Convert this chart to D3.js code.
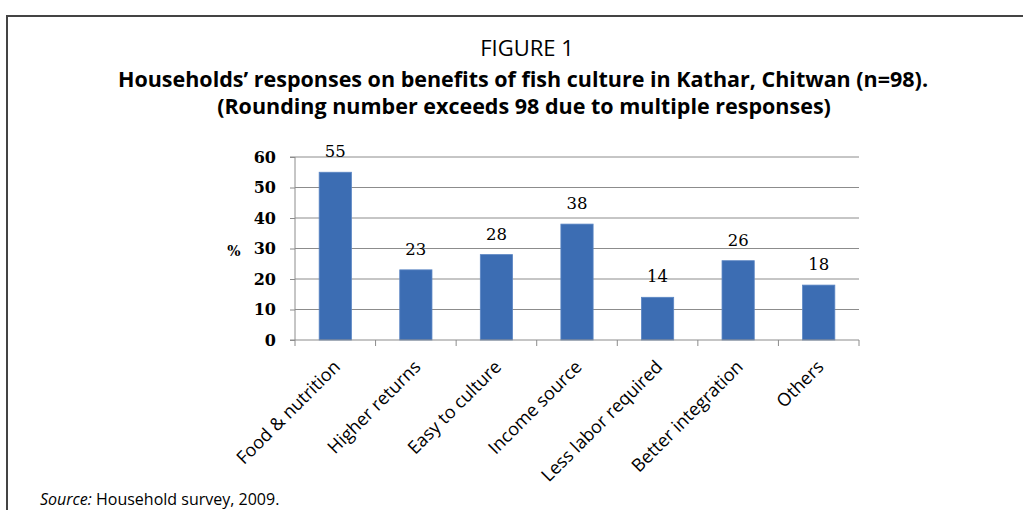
<!DOCTYPE html>
<html>
<head>
<meta charset="utf-8">
<script src="https://cdn.jsdelivr.net/npm/d3@7"></script>
<style>
  body { margin: 0; background: #fff; }
  svg { display: block; }
</style>
</head>
<body>
<div id="chart"></div>
<script>
var categories = ["Food & nutrition", "Higher returns", "Easy to culture", "Income source",
                  "Less labor required", "Better integration", "Others"];
var values = [55, 23, 28, 38, 14, 26, 18];
var yTicks = [0, 10, 20, 30, 40, 50, 60];

var width = 1023, height = 510;
var plotLeft = 295, plotRight = 859, plotTop = 157, plotBottom = 340;

var svg = d3.select("#chart").append("svg")
  .attr("width", width)
  .attr("height", height);

// frame round the figure
svg.append("path")
  .attr("d", "M7,510 V16 H1023")
  .attr("fill", "none")
  .attr("stroke", "#444")
  .attr("stroke-width", 2);

// titles
svg.append("text")
  .attr("x", 527).attr("y", 56)
  .attr("text-anchor", "middle")
  .style("font-family", "'Open Sans', sans-serif")
  .style("font-size", "22px")
  .text("FIGURE 1");

svg.append("text")
  .attr("x", 523).attr("y", 87)
  .attr("text-anchor", "middle")
  .style("font-family", "'Open Sans', sans-serif")
  .style("font-size", "21.5px")
  .style("font-weight", "bold")
  .text("Households\u2019 responses on benefits of fish culture in Kathar, Chitwan (n=98).");

svg.append("text")
  .attr("x", 524).attr("y", 114)
  .attr("text-anchor", "middle")
  .style("font-family", "'Open Sans', sans-serif")
  .style("font-size", "21.5px")
  .style("font-weight", "bold")
  .text("(Rounding number exceeds 98 due to multiple responses)");

var x = d3.scaleBand()
  .domain(categories)
  .range([plotLeft, plotRight])
  .paddingInner(0.6)
  .paddingOuter(0.3);

var y = d3.scaleLinear()
  .domain([0, 60])
  .range([plotBottom, plotTop]);

// gridlines
svg.append("g")
  .selectAll("line")
  .data(yTicks.slice(1))
  .enter()
  .append("line")
  .attr("x1", plotLeft).attr("x2", plotRight)
  .attr("y1", function(d){ return y(d); })
  .attr("y2", function(d){ return y(d); })
  .attr("stroke", "#8c8c8c")
  .attr("stroke-width", 1);

// bars
svg.append("g")
  .selectAll("rect")
  .data(values)
  .enter()
  .append("rect")
  .attr("x", function(d,i){ return x(categories[i]); })
  .attr("y", function(d){ return y(d); })
  .attr("width", x.bandwidth())
  .attr("height", function(d){ return plotBottom - y(d); })
  .attr("fill", "#3c6db3")
  .attr("stroke", "#5b86c4")
  .attr("stroke-width", 0.8);

// value labels
svg.append("g")
  .selectAll("text")
  .data(values)
  .enter()
  .append("text")
  .attr("x", function(d,i){ return x(categories[i]) + x.bandwidth()/2; })
  .attr("y", function(d){ return y(d) - 15; })
  .attr("text-anchor", "middle")
  .style("font-family", "'DejaVu Serif', serif")
  .style("font-size", "16.5px")
  .text(function(d){ return d; });

// y axis
var yAxis = d3.axisLeft(y)
  .tickValues(yTicks)
  .tickSize(5)
  .tickPadding(14);

var yg = svg.append("g")
  .attr("transform", "translate(" + plotLeft + ",0)")
  .call(yAxis);
yg.select(".domain").attr("stroke", "#8c8c8c").attr("d", "M-5," + plotBottom + "H0V" + plotTop + "H-5");
yg.selectAll(".tick line").attr("stroke", "#8c8c8c");
yg.selectAll(".tick text")
  .style("font-family", "'DejaVu Serif', serif")
  .style("font-size", "16px")
  .style("font-weight", "bold")
  .attr("fill", "#000");

svg.append("text")
  .attr("x", 234).attr("y", 256)
  .attr("text-anchor", "middle")
  .style("font-family", "'DejaVu Serif', serif")
  .style("font-size", "14px")
  .style("font-weight", "bold")
  .text("%");

// x axis line with ticks at category boundaries
var bounds = categories.map(function(c){ return x(c) - x.step()*x.paddingInner()/2; }).concat([plotRight]);
bounds[0] = plotLeft;
svg.append("line")
  .attr("x1", plotLeft).attr("x2", plotRight)
  .attr("y1", plotBottom).attr("y2", plotBottom)
  .attr("stroke", "#8c8c8c");
svg.append("g")
  .selectAll("line")
  .data(bounds)
  .enter()
  .append("line")
  .attr("x1", function(d){ return d; })
  .attr("x2", function(d){ return d; })
  .attr("y1", plotBottom).attr("y2", plotBottom + 6)
  .attr("stroke", "#8c8c8c");

// category labels
svg.append("g")
  .selectAll("text")
  .data(categories)
  .enter()
  .append("text")
  .attr("transform", function(d){
    return "translate(" + (x(d) + x.bandwidth()/2 + 6) + ",368) rotate(-45)";
  })
  .attr("text-anchor", "end")
  .style("font-family", "'Open Sans', sans-serif")
  .style("font-size", "18px")
  .text(function(d){ return d; });

// source note
var src = svg.append("text")
  .attr("x", 40).attr("y", 505)
  .style("font-family", "'Open Sans', sans-serif")
  .style("font-size", "16px");
src.append("tspan").style("font-style", "italic").text("Source:");
src.append("tspan").text(" Household survey, 2009.");
</script>
</body>
</html>
